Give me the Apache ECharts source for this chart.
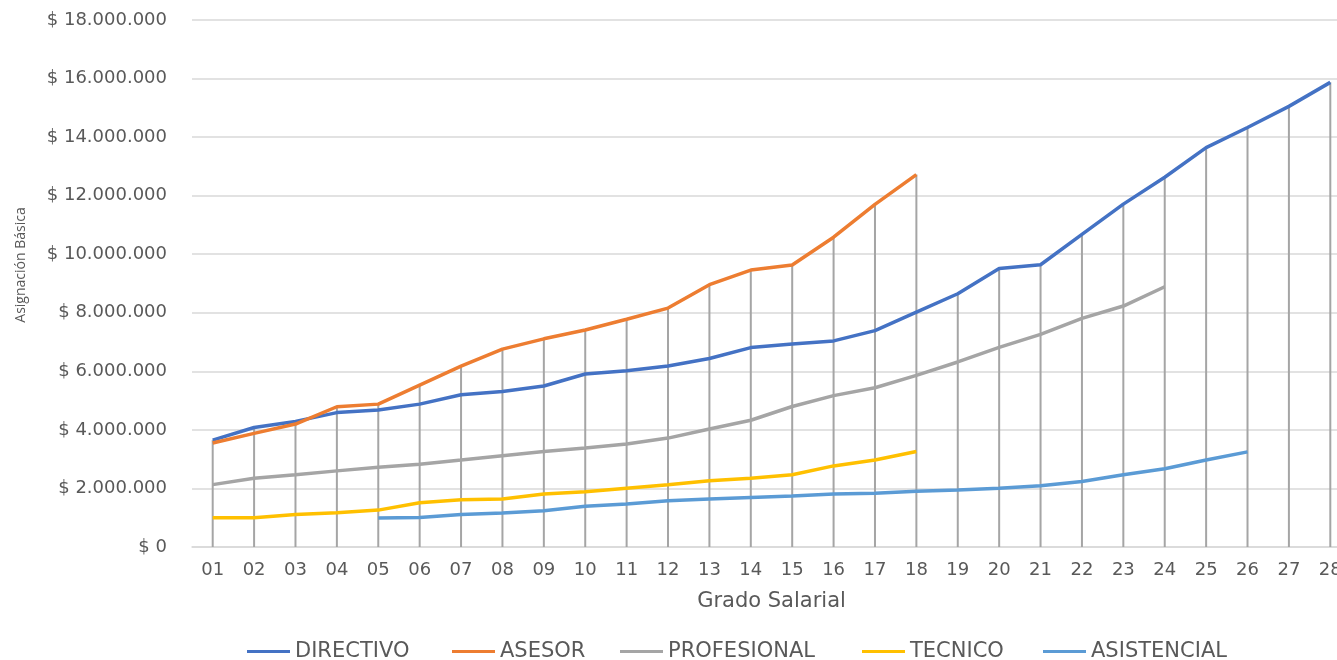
<!DOCTYPE html>
<html>
<head>
<meta charset="utf-8">
<script src="https://cdn.jsdelivr.net/npm/echarts@6/dist/echarts.min.js"></script>
<style>
html,body{margin:0;padding:0;background:#fff;}
#chart{width:1337px;height:660px;}
</style>
</head>
<body>
<div id="chart"></div>
<script>
const categories = ['01','02','03','04','05','06','07','08','09','10','11','12','13','14','15','16','17','18','19','20','21','22','23','24','25','26','27','28'];
const directivo = [3650000,4080000,4290000,4590000,4680000,4880000,5200000,5310000,5500000,5910000,6020000,6180000,6440000,6810000,6930000,7040000,7390000,8020000,8650000,9510000,9640000,10680000,11710000,12630000,13640000,14330000,15050000,15870000];
const asesor = [3550000,3880000,4200000,4790000,4880000,5530000,6180000,6760000,7110000,7410000,7780000,8160000,8960000,9460000,9630000,10580000,11700000,12720000,null,null,null,null,null,null,null,null,null,null];
const profesional = [2130000,2350000,2470000,2600000,2720000,2830000,2970000,3120000,3260000,3380000,3520000,3720000,4030000,4330000,4800000,5170000,5440000,5860000,6320000,6820000,7260000,7810000,8230000,8890000,null,null,null,null];
const tecnico = [1000000,1000000,1110000,1170000,1260000,1510000,1610000,1640000,1810000,1890000,2010000,2130000,2260000,2350000,2470000,2770000,2970000,3260000,null,null,null,null,null,null,null,null,null,null];
const asistencial = [null,null,null,null,990000,1010000,1110000,1160000,1240000,1390000,1470000,1580000,1640000,1690000,1740000,1810000,1840000,1900000,1950000,2010000,2090000,2240000,2470000,2670000,2970000,3250000,null,null];
const seriesNames = ['DIRECTIVO','ASESOR','PROFESIONAL','TECNICO','ASISTENCIAL'];
const seriesColors = ['#4472C4','#ED7D31','#A5A5A5','#FFC000','#5B9BD5'];
const legendLefts = [247, 452, 620, 862, 1043];
const yAxisTitle = 'Asignación Básica';
const xAxisTitle = 'Grado Salarial';

const allSeries = [directivo, asesor, profesional, tecnico, asistencial];
const dropData = categories.map((c, i) => {
  let m = null;
  allSeries.forEach(s => { if (s[i] != null && (m == null || s[i] > m)) m = s[i]; });
  return m;
});

function fmt(v) {
  return '$ ' + String(Math.round(v)).replace(/\B(?=(\d{3})+(?!\d))/g, '.');
}

const chart = echarts.init(document.getElementById('chart'));
const lineSeries = allSeries.map((d, k) => ({
  name: seriesNames[k],
  type: 'line',
  data: d,
  symbol: 'none',
  connectNulls: false,
  lineStyle: { width: 3.5, color: seriesColors[k] },
  itemStyle: { color: seriesColors[k] },
  z: 3
}));

const legends = seriesNames.map((n, k) => ({
  data: [n],
  left: legendLefts[k],
  top: 641,
  icon: 'rect',
  itemWidth: 43,
  itemHeight: 3,
  itemGap: 0,
  padding: 0,
  textStyle: { fontFamily: 'DejaVu Sans', fontSize: 21, color: '#595959', padding: [0,0,0,0] }
}));

chart.setOption({
  animation: false,
  backgroundColor: '#ffffff',
  grid: { left: 192, top: 20, height: 527, width: 1159, containLabel: false, outerBoundsMode: 'none' },
  legend: legends,
  graphic: [{
    type: 'text',
    x: 21,
    y: 265,
    rotation: Math.PI / 2,
    style: {
      text: yAxisTitle,
      fontFamily: 'Open Sans',
      fontSize: 14,
      fill: '#595959',
      textAlign: 'center',
      textVerticalAlign: 'middle'
    }
  }],
  xAxis: {
    type: 'category',
    data: categories,
    boundaryGap: true,
    name: xAxisTitle,
    nameLocation: 'middle',
    nameGap: 44,
    nameTextStyle: { fontFamily: 'DejaVu Sans', fontSize: 21, color: '#595959' },
    axisLine: { show: true, lineStyle: { color: '#d9d9d9', width: 1.5 } },
    axisTick: { show: false },
    axisLabel: { fontFamily: 'DejaVu Sans', fontSize: 18, color: '#595959', margin: 14, interval: 0 }
  },
  yAxis: {
    type: 'value',
    min: 0,
    max: 18000000,
    interval: 2000000,
    axisLine: { show: false },
    axisTick: { show: false },
    splitLine: { show: true, lineStyle: { color: '#d9d9d9', width: 1.5 } },
    axisLabel: { fontFamily: 'DejaVu Sans', fontSize: 18, color: '#595959', margin: 25, formatter: fmt }
  },
  series: [{
    name: 'drop',
    type: 'bar',
    data: dropData,
    barWidth: 2,
    itemStyle: { color: '#a5a5a5' },
    silent: true,
    z: 1
  }].concat(lineSeries)
});
</script>
</body>
</html>
